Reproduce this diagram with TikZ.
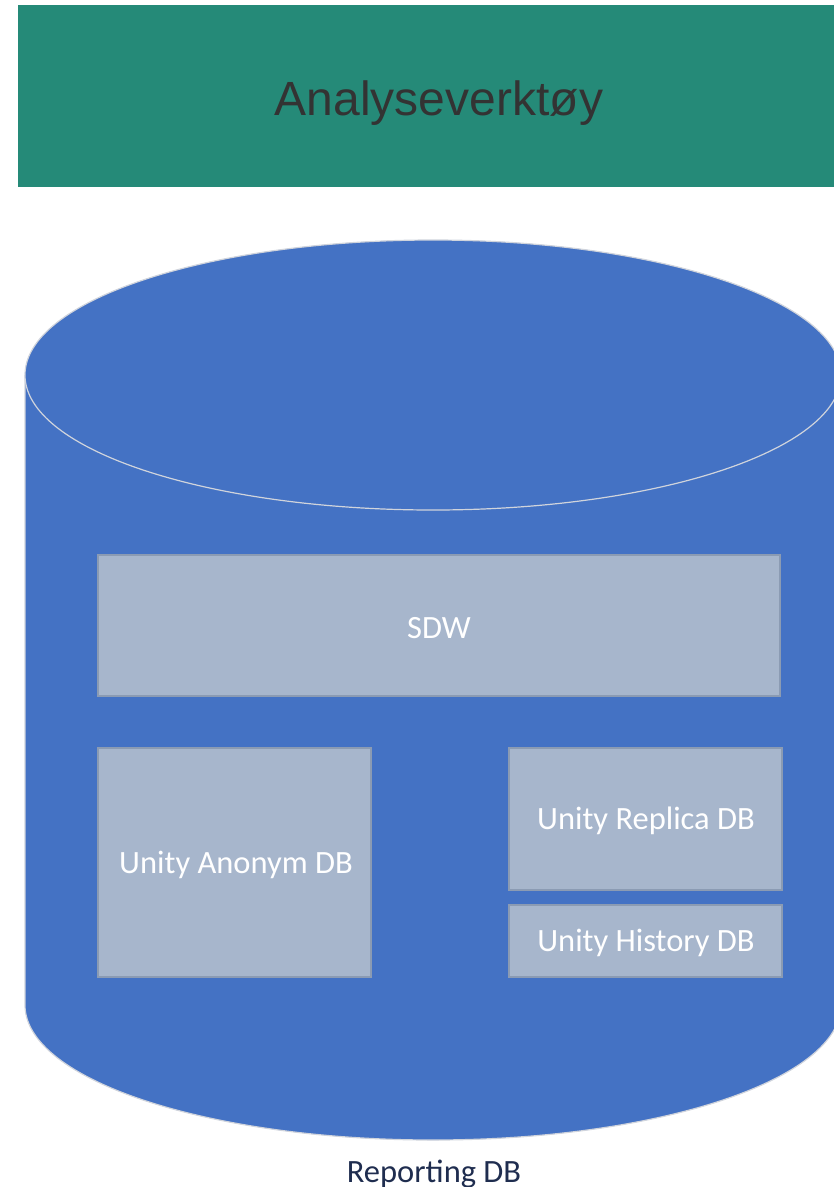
\documentclass[tikz,border=0pt]{standalone}
\usepackage{fontspec}
\setmainfont{Carlito}
\newfontfamily\bannerfont{Liberation Sans}
\definecolor{bannerc}{HTML}{258A78}
\definecolor{cylc}{HTML}{4472C4}
\definecolor{cylline}{HTML}{D0D4DC}
\definecolor{boxc}{HTML}{A7B6CC}
\definecolor{boxline}{HTML}{8B9BB3}
\definecolor{titlec}{HTML}{333333}
\definecolor{labelc}{HTML}{1F2D4F}
\tikzset{
  innerbox/.style={fill=boxc, draw=boxline, line width=1.5pt},
  boxtext/.style={text=white, font=\fontsize{32.5}{36}\selectfont, inner sep=0pt},
  cylfill/.style={fill=cylc},
  cyledge/.style={draw=cylline, line width=1.2pt}
}
\begin{document}
\begin{tikzpicture}[x=1pt,y=-1pt]
\useasboundingbox (0,0) rectangle (834,1187);
% banner
\fill[bannerc] (18,5) rectangle (840,187);
\node[anchor=base, inner sep=0pt, text=titlec, font=\bannerfont\fontsize{48}{52}\selectfont] (title) at (439,115) {Analyseverktøy};
% cylinder
\fill[cylfill] (25,375) rectangle (841,1005);
\fill[cylfill] (433,1005) ellipse [x radius=408, y radius=135];
\draw[cyledge] (25,375) -- (25,1005) arc [start angle=180, end angle=0, x radius=408, y radius=135] -- (841,375);
\draw[cyledge, cylfill] (433,375) ellipse [x radius=408, y radius=135];
% inner boxes
\draw[innerbox] (98,555) rectangle (780,696);
\node[boxtext] (sdw) at (439,628) {SDW};
\draw[innerbox] (98,748) rectangle (371,977);
\node[boxtext] (anon) at (236,865) {Unity Anonym DB};
\draw[innerbox] (509,748) rectangle (782,890);
\node[boxtext] (repl) at (646,821) {Unity Replica DB};
\draw[innerbox] (509,905) rectangle (782,977);
\node[boxtext] (hist) at (646,943) {Unity History DB};
% label
\node[anchor=base, inner sep=0pt, text=labelc, font=\fontsize{32.5}{36}\selectfont] (rep) at (434,1182) {Reporting DB};
\end{tikzpicture}
\end{document}
